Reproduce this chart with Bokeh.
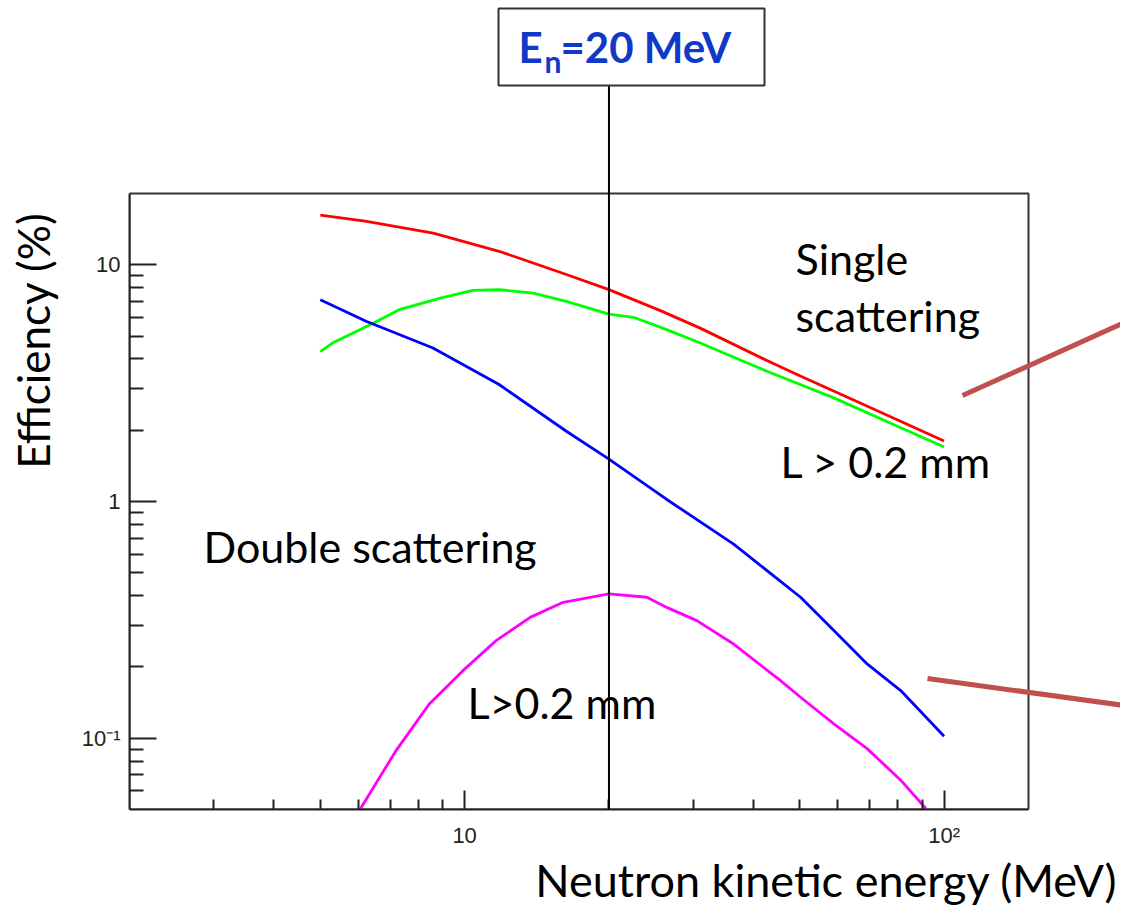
import math
from bokeh.plotting import figure
from bokeh.models import FixedTicker, Label, Arrow, BoxAnnotation, Range1d
from bokeh.embed import file_html
from bokeh.resources import INLINE

# ---------------- data ----------------
red_E = [5, 6.2, 8.6, 11.8, 16.3, 20, 25.6, 31, 42.7, 50, 69, 100]
red_v = [16.2, 15.3, 13.6, 11.4, 9.1, 7.85, 6.4, 5.4, 3.94, 3.4, 2.53, 1.8]

green_E = [5, 5.3, 6.4, 7.3, 8.9, 10.4, 11.8, 13.9, 16.3, 20, 22.5, 26.4, 31, 42.7, 58.9, 81.2, 100]
green_v = [4.3, 4.67, 5.62, 6.46, 7.23, 7.79, 7.85, 7.59, 7.0, 6.19, 6.0, 5.32, 4.67, 3.55, 2.74, 2.05, 1.7]

blue_E = [5, 6.23, 8.59, 11.8, 16.3, 20, 26.4, 36.4, 50.2, 58.9, 69.1, 81.2, 100]
blue_v = [7.12, 5.77, 4.45, 3.12, 1.98, 1.51, 1.02, 0.661, 0.394, 0.285, 0.206, 0.159, 0.102]

magenta_E = [6.05, 7.2, 8.45, 9.92, 11.65, 13.7, 16.05, 20, 24.0, 26.4, 30.5, 36.4, 45.6, 50.2, 58.9, 69.1, 81.2, 91.6]
magenta_v = [0.05, 0.0889, 0.140, 0.193, 0.259, 0.324, 0.375, 0.407, 0.394, 0.357, 0.314, 0.25, 0.175, 0.149, 0.115, 0.0904, 0.0665, 0.0505]

X_MIN, X_MAX = 2, 150          # axis extent
Y_MIN, Y_MAX = 0.05, 20
x_major = [10, 100]
x_minor = [3, 4, 5, 6, 7, 8, 9, 20, 30, 40, 50, 60, 70, 80, 90]
y_major = [0.1, 1, 10]
y_minor = [0.06, 0.07, 0.08, 0.09, 0.2, 0.3, 0.4, 0.5, 0.6, 0.7, 0.8, 0.9,
           2, 3, 4, 5, 6, 7, 8, 9]
x_tick_labels = {10: "10", 100: "10\u00b2"}
y_tick_labels = {0.1: "10\u207b\u00b9", 1: "1", 10: "10"}
EN_MARK = 20

# ---------------- layout (pixels) ----------------
W, H = 1120, 910
AX_L, AX_R, AX_T, AX_B = 129, 1028, 193, 809     # visible axes box
BL, BB = AX_L, H - AX_B                          # frame fills canvas above/right
FW, FH = W - BL, AX_B
DX = (AX_R - AX_L) / math.log10(X_MAX / X_MIN)   # px per decade
DY = (AX_B - AX_T) / math.log10(Y_MAX / Y_MIN)
X_VIEW_HI = X_MIN * 10 ** (FW / DX)
Y_VIEW_HI = Y_MIN * 10 ** (FH / DY)
FONT = "Lato"

p = figure(frame_width=FW, frame_height=FH,
           min_border_left=BL, min_border_right=0, min_border_top=0, min_border_bottom=BB,
           x_axis_type="log", y_axis_type="log",
           x_range=Range1d(X_MIN, X_VIEW_HI), y_range=Range1d(Y_MIN, Y_VIEW_HI),
           output_backend="svg", toolbar_location=None)
p.background_fill_color = "white"
p.border_fill_color = "white"
p.xgrid.visible = False
p.ygrid.visible = False
p.outline_line_color = None

ax = p.xaxis[0]
ax.bounds = (X_MIN, X_MAX)
ax.ticker = FixedTicker(ticks=x_major, minor_ticks=x_minor)
ax.major_label_overrides = x_tick_labels
ax.major_tick_in = 19
ax.major_tick_out = 0
ax.minor_tick_in = 10
ax.minor_tick_out = 0
ax.axis_line_width = 2
ax.major_tick_line_width = 2
ax.minor_tick_line_width = 2
ax.axis_line_color = "#222222"
ax.major_tick_line_color = "#222222"
ax.minor_tick_line_color = "#222222"
ax.major_label_text_font = "Liberation Sans"
ax.major_label_text_font_size = "22px"
ax.major_label_text_color = "#222222"
ax.major_label_standoff = 13

ay = p.yaxis[0]
ay.bounds = (Y_MIN, Y_MAX)
ay.ticker = FixedTicker(ticks=y_major, minor_ticks=y_minor)
ay.major_label_overrides = y_tick_labels
ay.major_tick_in = 27
ay.major_tick_out = 0
ay.minor_tick_in = 14
ay.minor_tick_out = 0
ay.axis_line_width = 2
ay.major_tick_line_width = 2
ay.minor_tick_line_width = 2
ay.axis_line_color = "#222222"
ay.major_tick_line_color = "#222222"
ay.minor_tick_line_color = "#222222"
ay.major_label_text_font = "Liberation Sans"
ay.major_label_text_font_size = "22px"
ay.major_label_text_color = "#222222"
ay.major_label_standoff = 9

# visible plot box (top/right edges of the axes frame)
p.add_layout(BoxAnnotation(left=X_MIN, right=X_MAX, bottom=Y_MIN, top=Y_MAX,
                           fill_alpha=0, line_color="#333333", line_alpha=1.0,
                           line_width=2, level="underlay"))

# ---------------- curves ----------------
LW = 2.8
p.line(red_E, red_v, line_color="#ff0000", line_width=LW)
p.line(green_E, green_v, line_color="#00ff00", line_width=LW)
p.line(blue_E, blue_v, line_color="#0000ff", line_width=LW)
p.line(magenta_E, magenta_v, line_color="#ff00ff", line_width=LW)

# vertical marker at E_n = 20 MeV with its label box
xc = AX_L + DX * math.log10(EN_MARK / X_MIN)
BOX_L, BOX_R, BOX_T, BOX_B = 498, 764, 8, 85
p.add_layout(Arrow(x_start=xc, y_start=BOX_B, x_end=xc, y_end=AX_B, start_units="canvas",
                   end_units="canvas", end=None, line_color="black", line_width=2))
p.add_layout(BoxAnnotation(left=BOX_L, right=BOX_R, top=BOX_T, bottom=BOX_B,
                           left_units="canvas", right_units="canvas",
                           top_units="canvas", bottom_units="canvas",
                           fill_color="white", fill_alpha=1.0,
                           line_color="#333333", line_alpha=1.0, line_width=2))


def off(size):
    # Label anchor sits ~0.4 em above the glyph baseline in this renderer
    return 0.4 * size


BLUE = "#1039c8"
for txt, x, base, size in [("E", 518, 63, 42), ("n", 544, 72, 30), ("=20 MeV", 560, 63, 42)]:
    p.add_layout(Label(x=x, y=base - off(size), x_units="canvas", y_units="canvas", text=txt,
                       text_font=FONT, text_font_size=f"{size}px", text_font_style="bold",
                       text_color=BLUE, text_baseline="alphabetic"))

# pointer lines (arrows towards the right, heads outside the picture)
BROWN = "#c0504d"
p.add_layout(Arrow(x_start=962, y_start=395, x_end=1124, y_end=322, start_units="canvas",
                   end_units="canvas", end=None, line_color=BROWN, line_width=5))
p.add_layout(Arrow(x_start=927, y_start=678, x_end=1124, y_end=705, start_units="canvas",
                   end_units="canvas", end=None, line_color=BROWN, line_width=5))

# text annotations inside the plot
TS = 43
for txt, x, base in [("Single", 795, 275),
                     ("scattering", 795, 332),
                     ("L > 0.2 mm", 780, 478),
                     ("Double scattering", 203, 563),
                     ("L>0.2 mm", 467, 719)]:
    p.add_layout(Label(x=x, y=base - off(TS), x_units="canvas", y_units="canvas", text=txt,
                       text_font=FONT, text_font_size=f"{TS}px", text_color="black",
                       text_align="left", text_baseline="alphabetic"))

# axis titles (side panels, outside the axes box)
p.add_layout(Label(x=1117, y=897 - off(45), x_units="canvas", y_units="canvas",
                   text="Neutron kinetic energy (MeV)", text_font=FONT, text_font_size="45px",
                   text_color="black", text_align="right", text_baseline="alphabetic"), "below")
p.add_layout(Label(x=50 - off(44), y=340, x_units="canvas", y_units="canvas", angle=math.pi / 2,
                   text="Efficiency (%)", text_font=FONT, text_font_size="44px",
                   text_color="black", text_align="center", text_baseline="alphabetic"), "left")

open("out.html", "w").write(file_html(p, INLINE))
